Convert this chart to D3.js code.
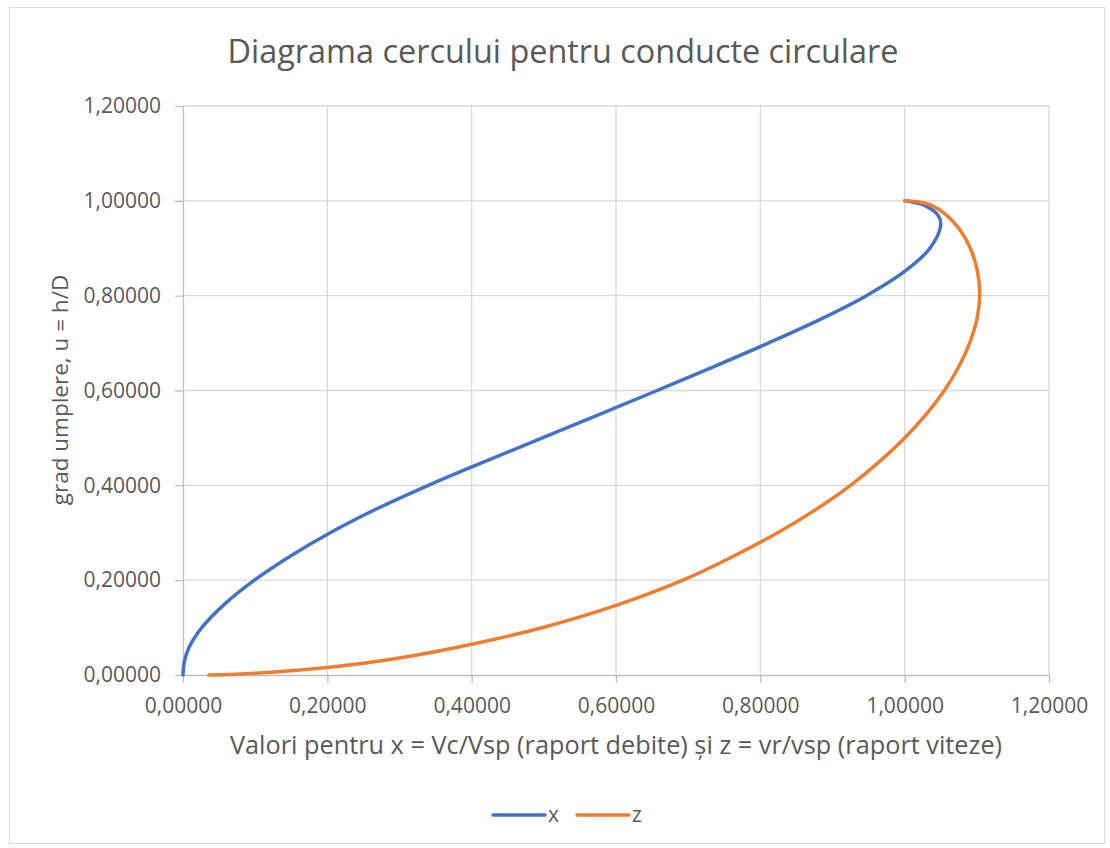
<!DOCTYPE html>
<html>
<head>
<meta charset="utf-8">
<script src="https://cdn.jsdelivr.net/npm/d3@7"></script>
<style>
  body { margin: 0; background: #fff; }
  text { font-family: 'Open Sans', sans-serif; fill: #595959; }
</style>
</head>
<body>
<div id="chart"></div>
<script>
// x = Vc/Vsp (raport debite) as [value, u]
const xSeries = [
  [0, 0], [0.0015, 0.025], [0.006, 0.05], [0.0145, 0.075], [0.026, 0.1],
  [0.058, 0.15], [0.099, 0.2], [0.148, 0.25], [0.204, 0.3], [0.268, 0.35],
  [0.34, 0.4], [0.418, 0.45], [0.498, 0.5], [0.578, 0.55], [0.657, 0.6],
  [0.735, 0.65], [0.811, 0.7], [0.883, 0.75], [0.947, 0.8], [0.999, 0.85],
  [1.035, 0.9], [1.05, 0.95], [1.046, 0.97], [1.028, 0.99], [1.0, 1.0]
]

// z = vr/vsp (raport viteze)
const zSeries = [
  [0.036, 0], [0.1, 0.0038], [0.2, 0.0158], [0.3, 0.0358], [0.4, 0.0648],
  [0.5, 0.1008], [0.6, 0.1468], [0.7, 0.205], [0.762, 0.25], [0.824, 0.3],
  [0.878, 0.35], [0.925, 0.4], [0.965, 0.45], [1.0, 0.5], [1.03, 0.55],
  [1.055, 0.6], [1.075, 0.65], [1.09, 0.7], [1.1, 0.75], [1.104, 0.8],
  [1.101, 0.85], [1.091, 0.9], [1.076, 0.94], [1.058, 0.97], [1.038, 0.99],
  [1.018, 0.998], [1.0, 1.0]
]

const seriesNames = ['x', 'z']
const seriesColors = ['#4472C4', '#ED7D31']
const tickValues = [0, 0.2, 0.4, 0.6, 0.8, 1.0, 1.2]

const title = 'Diagrama cercului pentru conducte circulare'
const xTitle = 'Valori pentru x = Vc/Vsp (raport debite) și z = vr/vsp (raport viteze)'
const yTitle = 'grad umplere, u = h/D'

const W = 1110
const H = 848
const margin = { top: 106, left: 183, right: 61, bottom: 173 }
const width = W - margin.left - margin.right
const height = H - margin.top - margin.bottom

const svg = d3
  .select('#chart')
  .append('svg')
  .attr('width', W)
  .attr('height', H)

svg
  .append('rect')
  .attr('x', 9.5)
  .attr('y', 7.5)
  .attr('width', 1095)
  .attr('height', 836)
  .attr('fill', '#fff')
  .attr('stroke', '#d9d9d9')

const g = svg
  .append('g')
  .attr('transform', 'translate(' + margin.left + ',' + margin.top + ')')

const xScale = d3.scaleLinear().domain([0, 1.2]).range([0, width])
const yScale = d3.scaleLinear().domain([0, 1.2]).range([height, 0])

const fmt = d => d3.format('.5f')(d).replace('.', ',')

// gridlines
g.selectAll('.vgrid')
  .data(tickValues.slice(1))
  .enter()
  .append('line')
  .attr('x1', d => xScale(d))
  .attr('x2', d => xScale(d))
  .attr('y1', 0)
  .attr('y2', height)
  .attr('stroke', '#d9d9d9')
  .attr('stroke-width', 1.3)

g.selectAll('.hgrid')
  .data(tickValues.slice(1))
  .enter()
  .append('line')
  .attr('x1', 0)
  .attr('x2', width)
  .attr('y1', d => yScale(d))
  .attr('y2', d => yScale(d))
  .attr('stroke', '#d9d9d9')
  .attr('stroke-width', 1.3)

// axes
const xAxis = g
  .append('g')
  .attr('transform', 'translate(0,' + height + ')')
  .call(d3.axisBottom(xScale).tickValues(tickValues).tickFormat(fmt).tickSizeInner(8).tickSizeOuter(0).tickPadding(15))

const yAxis = g
  .append('g')
  .call(d3.axisLeft(yScale).tickValues(tickValues).tickFormat(fmt).tickSizeInner(8).tickSizeOuter(0).tickPadding(14))

;[xAxis, yAxis].forEach(ax => {
  ax.select('.domain').attr('stroke', '#bfbfbf').attr('stroke-width', 1.3)
  ax.selectAll('.tick line').attr('stroke', '#bfbfbf').attr('stroke-width', 1.3)
  ax.selectAll('.tick text')
    .attr('font-family', "'Open Sans', sans-serif")
    .attr('font-size', 21)
    .attr('fill', '#595959')
})

// curves
const line = d3
  .line()
  .x(d => xScale(d[0]))
  .y(d => yScale(d[1]))
  .curve(d3.curveCatmullRom.alpha(0.5))

g.selectAll('.curve')
  .data([xSeries, zSeries])
  .enter()
  .append('path')
  .attr('d', d => line(d))
  .attr('fill', 'none')
  .attr('stroke', (d, i) => seriesColors[i])
  .attr('stroke-width', 3.5)
  .attr('stroke-linecap', 'round')

// titles
svg
  .append('text')
  .attr('x', 563)
  .attr('y', 63)
  .attr('text-anchor', 'middle')
  .attr('font-size', 32.4)
  .text(title)

svg
  .append('text')
  .attr('x', 616)
  .attr('y', 754)
  .attr('text-anchor', 'middle')
  .attr('font-size', 25.3)
  .text(xTitle)

svg
  .append('text')
  .attr('transform', 'translate(68,390) rotate(-90)')
  .attr('text-anchor', 'middle')
  .attr('font-size', 22.5)
  .text(yTitle)

// legend
const legend = svg
  .selectAll('.legend')
  .data(seriesNames)
  .enter()
  .append('g')
  .attr('transform', (d, i) => 'translate(' + (493 + i * 84) + ',815)')

legend
  .append('line')
  .attr('x1', 0)
  .attr('x2', 52)
  .attr('stroke', (d, i) => seriesColors[i])
  .attr('stroke-width', 3.5)
  .attr('stroke-linecap', 'round')

legend
  .append('text')
  .attr('x', 55)
  .attr('y', 7)
  .attr('font-size', 21)
  .text(d => d)
</script>
</body>
</html>
